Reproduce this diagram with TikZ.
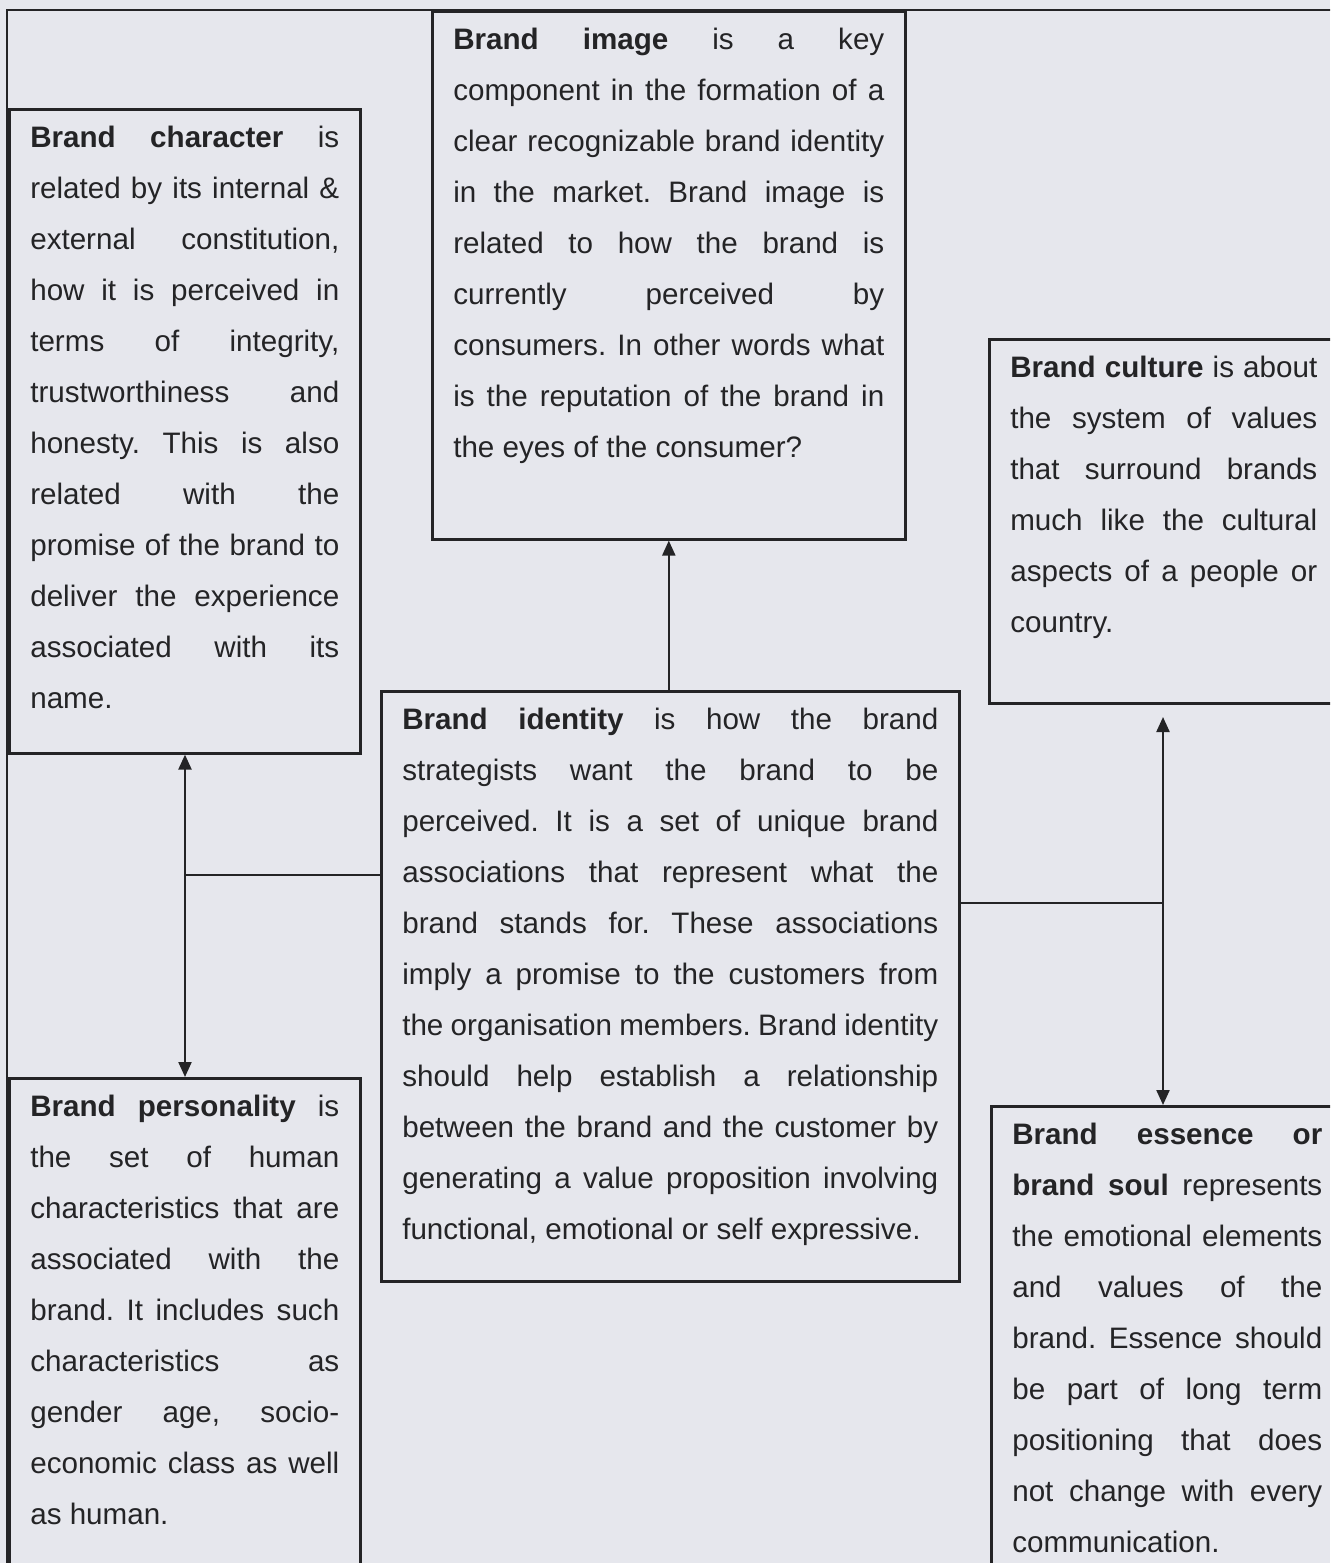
\documentclass[tikz,border=0pt]{standalone}
\usepackage{fontspec}
\setmainfont{Liberation Sans}
\usetikzlibrary{arrows.meta,calc}
\definecolor{paper}{RGB}{230,231,237}
\definecolor{ink}{RGB}{36,36,38}
\tikzset{
  infobox/.style={draw=ink, line width=1.3pt, anchor=north west,
    inner xsep=10.5pt, inner ysep=0pt, align=justify, text=ink,
    text height=19pt, font=\fontsize{14.8}{25.5}\selectfont,
    execute at begin node={\tolerance=10000\frenchspacing}},
  link/.style={draw=ink, line width=1.1pt}
}

\begin{document}
\begin{tikzpicture}[x=0.5pt, y=-0.5pt, >={Triangle[length=7.5pt,width=6.5pt]}]
    \clip (0,0) rectangle (1330,1563);
    \fill[paper] (0,0) rectangle (1330,1563);
    \draw[ink, line width=1.3pt] (7,10) rectangle (1360,1600);

    \node[infobox, text width=154.5pt, text depth=303pt] (character) at (8,108)
        {\textbf{Brand character} is\linebreak related by its internal \&\linebreak
         external constitution,\linebreak how it is perceived in\linebreak
         terms of integrity,\linebreak trustworthiness and\linebreak
         honesty. This is also\linebreak related with the\linebreak
         promise of the brand to\linebreak deliver the experience\linebreak
         associated with its\linebreak name.};

    \node[infobox, text width=215.5pt, text depth=245pt] (image) at (431,10)
        {\textbf{Brand image} is a key\linebreak component in the formation of a\linebreak
         clear recognizable brand identity\linebreak in the market. Brand image is\linebreak
         related to how the brand is\linebreak currently perceived by\linebreak
         consumers. In other words what\linebreak is the reputation of the brand in\linebreak
         the eyes of the consumer?};

    \node[infobox, text width=153.5pt, text depth=163pt] (culture) at (988,338)
        {\textbf{Brand culture} is about\linebreak the system of values\linebreak
         that surround brands\linebreak much like the cultural\linebreak
         aspects of a people or\linebreak country.};

    \node[infobox, text width=268pt, text depth=276pt] (identity) at (380,690)
        {\textbf{Brand identity} is how the brand\linebreak strategists want the brand to be\linebreak
         perceived. It is a set of unique brand\linebreak associations that represent what the\linebreak
         brand stands for. These associations\linebreak imply a promise to the customers from\linebreak
         the organisation members. Brand identity\linebreak should help establish a relationship\linebreak
         between the brand and the customer by\linebreak generating a value proposition involving\linebreak
         functional, emotional or self expressive.};

    \node[infobox, text width=154.5pt, text depth=231pt] (personality) at (8,1077)
        {\textbf{Brand personality} is\linebreak the set of human\linebreak
         characteristics that are\linebreak associated with the\linebreak
         brand. It includes such\linebreak characteristics as\linebreak
         gender age, socio-\linebreak economic class as well\linebreak
         as human.};

    \node[infobox, text width=155pt, text depth=221pt] (essence) at (990,1105)
        {\textbf{Brand essence or}\linebreak \textbf{brand soul} represents\linebreak
         the emotional elements\linebreak and values of the\linebreak
         brand. Essence should\linebreak be part of long term\linebreak
         positioning that does\linebreak not change with every\linebreak
         communication.};

    \coordinate (jl) at (185,875);
    \coordinate (jr) at (1163,903);
    \coordinate (ctip) at (1163,717);

    \draw[link, ->] (image.south |- identity.north) -- (image.south);
    \draw[link] (jl -| identity.west) -- (jl);
    \draw[link, <->] (jl |- character.south) -- (jl |- personality.north);
    \draw[link] (jr -| identity.east) -- (jr);
    \draw[link, <->] (ctip) -- (jr |- essence.north);
\end{tikzpicture}
\end{document}
